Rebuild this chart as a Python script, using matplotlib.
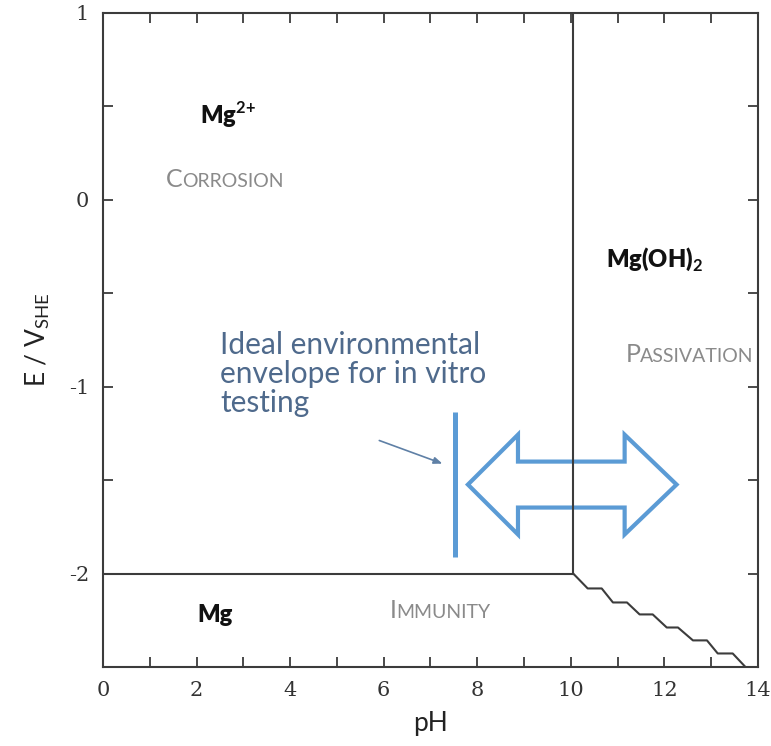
import numpy as np
import matplotlib.pyplot as plt
import matplotlib.patches as mpatches
from matplotlib.offsetbox import TextArea, HPacker, AnnotationBbox
from matplotlib.ticker import MultipleLocator

plt.rcParams['axes.unicode_minus'] = False
plt.rcParams['mathtext.fontset'] = 'custom'
plt.rcParams['mathtext.rm'] = 'Lato'
plt.rcParams['mathtext.bf'] = 'Lato:bold'

# boundaries of the Pourbaix diagram
ph_boundary = 10.05
e_boundary = -2.0
step_ph = [10.05, 10.36, 10.66, 10.90, 11.20, 11.47, 11.75, 12.05, 12.29, 12.61, 12.91, 13.14, 13.46, 13.72]
step_e = [-2.0, -2.08, -2.08, -2.155, -2.155, -2.219, -2.219, -2.289, -2.289, -2.358, -2.358, -2.428, -2.428, -2.497]

# ideal in vitro envelope
env_ph = 7.52
env_e = [-1.134, -1.909]
arrow_ph = [7.80, 8.87, 11.15, 12.26]          # tip, head base, head base, tip
arrow_e = [-1.257, -1.401, -1.524, -1.647, -1.791]  # head top, shaft top, mid, shaft bottom, head bottom

species = [("Mg$^{\\mathbf{2{+}}}$", 2.67, 0.455), ("Mg(OH)$_{\\mathbf{2}}$", 11.8, -0.32), ("Mg", 2.39, -2.22)]
regions = [("CORROSION", 2.6, 0.107), ("PASSIVATION", 12.54, -0.83), ("IMMUNITY", 7.2, -2.2)]

edge = "#3c3c3c"
blue = "#5b9bd5"
sans = ["Lato", "DejaVu Sans"]

fig = plt.figure(figsize=(7.71, 7.46), dpi=100)
ax = fig.add_axes([0.1336, 0.106, 0.8495, 0.8766])
ax.set_xlim(0, 14)
ax.set_ylim(-2.5, 1)

for s in ax.spines.values():
    s.set_color(edge)
    s.set_linewidth(1.5)

ax.xaxis.set_major_locator(MultipleLocator(2))
ax.xaxis.set_minor_locator(MultipleLocator(1))
ax.yaxis.set_major_locator(MultipleLocator(1))
ax.yaxis.set_minor_locator(MultipleLocator(0.5))
ax.tick_params(which="both", direction="in", top=True, right=True, color=edge,
               width=1.3, length=7)
ax.tick_params(which="major", labelsize=15, labelcolor="#333333", pad=10)
for lab in ax.get_xticklabels() + ax.get_yticklabels():
    lab.set_family(["DejaVu Serif"])

ax.set_xlabel("pH", fontsize=19, family=sans, color="#222222", labelpad=8)
ax.set_ylabel("E / V$_{\\mathregular{SHE}}$", fontsize=19, family=sans, color="#222222", labelpad=12)

# phase boundaries
ax.plot([0, ph_boundary], [e_boundary, e_boundary], color=edge, lw=1.5)
ax.plot([ph_boundary, ph_boundary], [e_boundary, 1], color=edge, lw=1.5)
ax.plot(step_ph, step_e, color=edge, lw=1.5)

# envelope line and double arrow
ax.plot([env_ph, env_ph], env_e, color=blue, lw=3.6, solid_capstyle="butt")
x0, x1, x2, x3 = arrow_ph
ht, st, mid, sb, hb = arrow_e
arrow_pts = [(x0, mid), (x1, ht), (x1, st), (x2, st), (x2, ht), (x3, mid),
             (x2, hb), (x2, sb), (x1, sb), (x1, hb)]
ax.add_patch(mpatches.Polygon(arrow_pts, closed=True, fc="none", ec=blue, lw=3, joinstyle="miter"))

ax.text(2.5, -0.70, "Ideal environmental\nenvelope for in vitro\ntesting", fontsize=21.5,
        family=sans, color="#4f6a8c", ha="left", va="top", linespacing=1.05)
ax.annotate("", xy=(7.31, -1.417), xytext=(5.85, -1.283),
            arrowprops=dict(arrowstyle="-|>,head_length=0.5,head_width=0.2", color="#5f80a6", lw=1.2))

for label, x, y in species:
    ax.text(x, y, label, fontsize=17, fontweight="heavy", family=sans, color="#111111",
            ha="center", va="center")

for label, x, y in regions:
    box = HPacker(children=[TextArea(label[0], textprops=dict(fontsize=18, family=sans, color="#8a8a8a")),
                            TextArea(label[1:], textprops=dict(fontsize=14, family=sans, color="#8a8a8a"))],
                  align="baseline", pad=0, sep=0)
    ax.add_artist(AnnotationBbox(box, (x, y), xycoords="data", frameon=False, pad=0))

fig.savefig("out.png", dpi=100)
